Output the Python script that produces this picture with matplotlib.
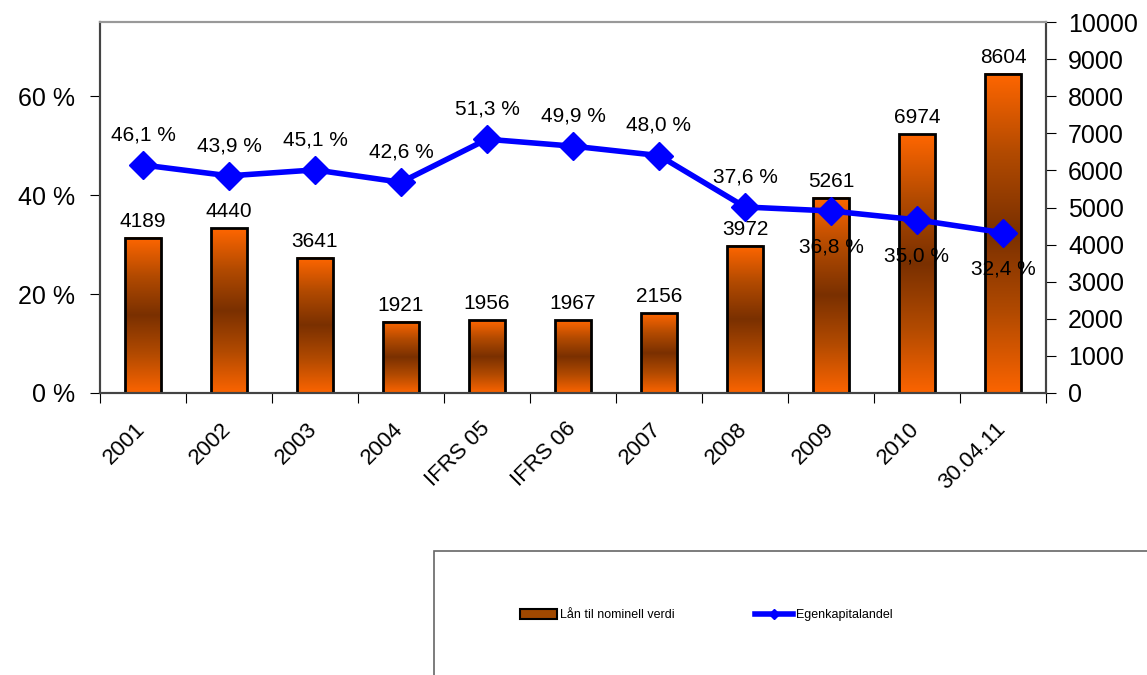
import matplotlib.pyplot as plt
import numpy as np
from matplotlib.colors import LinearSegmentedColormap
from matplotlib.patches import Rectangle, Patch
from matplotlib.lines import Line2D
from matplotlib.transforms import ScaledTranslation

plt.rcParams['font.family'] = ['Liberation Sans', 'DejaVu Sans']

# data
categories = ["2001", "2002", "2003", "2004", "IFRS 05", "IFRS 06", "2007",
              "2008", "2009", "2010", "30.04.11"]
loans = [4189, 4440, 3641, 1921, 1956, 1967, 2156, 3972, 5261, 6974, 8604]
equity_pct = [46.1, 43.9, 45.1, 42.6, 51.3, 49.9, 48.0, 37.6, 36.8, 35.0, 32.4]
# label below the point for these
below = [False, False, False, False, False, False, False, False, True, True, True]

fig = plt.figure(figsize=(11.47, 6.75), dpi=100)
ax = fig.add_axes([100/1147, 1 - 393/675, 946/1147, 371/675])
ax2 = ax.twinx()

x = np.arange(len(categories))
w = 0.41

# orange -> brown -> orange gradient inside each bar
cmap = LinearSegmentedColormap.from_list("bar", ["#FB6400", "#B24A00", "#7A3000", "#B24A00", "#FF6600"])
grad = np.linspace(0, 1, 256).reshape(-1, 1)
for xi, v in zip(x, loans):
    ax.imshow(grad, extent=(xi - w/2, xi + w/2, 0, v), origin="lower",
              aspect="auto", cmap=cmap, zorder=2)
bars = ax.bar(x, loans, width=w, facecolor="none", edgecolor="black", linewidth=2, zorder=3)
for xi, v in zip(x, loans):
    ax.annotate(str(v), (xi, v), xytext=(0, 5), textcoords="offset points",
                ha="center", va="bottom", fontsize=15)

ax.set_xlim(-0.5, len(categories) - 0.5)
ax.set_ylim(0, 10000)
ax.yaxis.tick_right()
ax.set_yticks(range(0, 10001, 1000))
ax.tick_params(axis="y", labelsize=18, direction="out", length=7, pad=9)

# x ticks on category boundaries, labels at centres
ax.set_xticks(np.arange(-0.5, len(categories), 1))
ax.set_xticklabels([])
ax.set_xticks(x, minor=True)
ax.set_xticklabels(categories, minor=True, rotation=45, ha="right", va="top",
                   rotation_mode="anchor", fontsize=16)
ax.tick_params(axis="x", which="major", direction="out", length=7)
ax.tick_params(axis="x", which="minor", length=0, pad=14)
for lbl in ax.get_xticklabels(minor=True):
    lbl.set_transform(lbl.get_transform() + ScaledTranslation(-0.08, -0.06, fig.dpi_scale_trans))

# equity line on left axis
ax2.plot(x, equity_pct, color="#0000FF", linewidth=4, marker="D", markersize=14, zorder=4)
for xi, p, b in zip(x, equity_pct, below):
    txt = f"{p:.1f} %".replace(".", ",")
    if b:
        ax2.annotate(txt, (xi, p), xytext=(0, -19), textcoords="offset points",
                     ha="center", va="top", fontsize=15)
    else:
        ax2.annotate(txt, (xi, p), xytext=(0, 15), textcoords="offset points",
                     ha="center", va="bottom", fontsize=15)
ax2.set_ylim(0, 75)
ax2.set_yticks([0, 20, 40, 60])
ax2.set_yticklabels(["0 %", "20 %", "40 %", "60 %"])
ax2.yaxis.tick_left()
ax2.tick_params(axis="y", labelsize=18, direction="out", length=7, pad=11)

for a in (ax, ax2):
    for s in ("left", "right", "bottom"):
        a.spines[s].set_color("#444444")
        a.spines[s].set_linewidth(1.5)
    a.spines["top"].set_color("#999999")
    a.spines["top"].set_linewidth(1.5)

# legend box (runs off the figure edge)
fig.patches.append(Rectangle((434/1147, -0.1), 0.7, 0.1 + (675 - 551)/675,
                             transform=fig.transFigure, facecolor="white",
                             edgecolor="#666666", linewidth=1.2))
handles = [Patch(facecolor="#A04800", edgecolor="black", linewidth=1.5),
           Line2D([], [], color="#0000FF", linewidth=4, marker="D", markersize=5)]
fig.legend(handles, ["Lån til nominell verdi", "Egenkapitalandel"], ncol=2,
           loc="center", bbox_to_anchor=(706/1147, 1 - 615/675), frameon=False,
           fontsize=9, handlelength=3.0, handleheight=0.8, handletextpad=0.25,
           columnspacing=6.4)

fig.savefig("out.png", dpi=100)
